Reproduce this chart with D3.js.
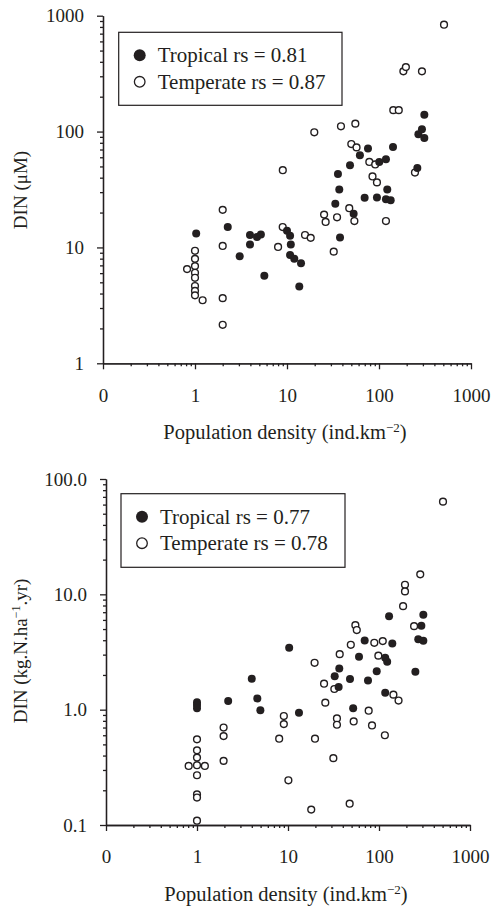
<!DOCTYPE html>
<html>
<head>
<meta charset="utf-8">
<script src="https://cdn.jsdelivr.net/npm/d3@7"></script>
<style>
  body { margin: 0; background: #fff; }
</style>
</head>
<body>
<svg id="chart" width="493" height="908"></svg>
<script>
// population density (ind/km2), DIN
const topTropical = [
  [1.03,13.2],[2.27,15],[3.06,8.4],[3.96,12.8],[3.96,10.6],[4.72,12.3],[5.2,12.9],[5.67,5.7],
  [10,13.9],[10.8,12.6],[11,10.6],[10.8,8.6],[12,8.0],[14.2,7.3],[13.6,4.6],[33.5,23.8],
  [37,31.6],[37.7,12.2],[35.8,43.1],[48.4,51.2],[53,19.5],[62,62.5],[69.8,26.8],[75.9,71.3],
  [95,27],[100.7,54.7],[119,57.7],[119,26],[123,31.6],[134,25.6],[142,73.6],[261,48.5],
  [268,94.8],[293,104.7],[311,88],[311,140]
]
const topTemperate = [
  [0.82,6.5],[1,9.35],[1,7.97],[1,6.9],[1,6.04],[1,5.47],[1,4.64],[1,4.22],[1,3.86],[1.21,3.5],
  [2,21.1],[2,10.3],[2,3.65],[2,2.15],[8,10.1],[8.98,15],[9,46.4],[15.7,12.8],[18.1,12.1],
  [19.8,98.6],[25.3,19.2],[26.3,16.6],[32.2,9.2],[35,18.2],[38.6,111],[47.5,21.8],[50,78],
  [54,16.9],[55.3,117],[57,73],[78.5,54.7],[85,41],[91,52],[95,36.4],[119,16.9],[143,153],
  [164,153],[184,331],[196,360],[246,44.3],[293,331],[509,836]
]
const bottomTropical = [
  [1,1.16],[1,1.1],[1,1.03],[2.2,1.19],[4,1.85],[4.6,1.25],[4.97,0.99],[10.3,3.44],[13.2,0.94],
  [32.6,1.95],[36,1.57],[36.6,2.28],[48,1.84],[52,1.03],[60.3,2.88],[69.6,3.98],[75.7,1.79],
  [94.4,2.15],[117,2.82],[117,1.4],[123,2.6],[129,6.46],[140,3.75],[251,2.13],[270,4.08],
  [292,5.34],[307,3.96],[307,6.65]
]
const bottomTemperate = [
  [0.81,0.325],[1,0.553],[1,0.444],[1,0.384],[1,0.33],[1,0.27],[1,0.184],[1,0.173],[1,0.109],
  [1.22,0.325],[1.96,0.70],[1.96,0.59],[1.96,0.36],[8,0.56],[9,0.88],[9,0.75],[10.1,0.244],
  [18,0.136],[19.6,2.55],[19.8,0.56],[24.9,1.68],[25.7,1.15],[31.5,0.38],[32.3,1.51],[34.5,0.84],
  [34.5,0.74],[37,3.03],[47.6,0.153],[49,3.65],[52.7,0.79],[55,5.4],[57,4.9],[77,0.98],[83.8,0.73],
  [88.8,3.8],[98.4,2.94],[110,3.93],[116,0.6],[144,1.35],[164,1.2],[184,7.9],[193,12.1],[193,10.6],
  [243,5.3],[284,14.9],[505,63.6]
]

const xTicks = [0.1, 1, 10, 100, 1000]
const xTickLabels = ["0", "1", "10", "100", "1000"]
const topYTicks = [1, 10, 100, 1000]
const topYLabels = ["1", "10", "100", "1000"]
const bottomYTicks = [0.1, 1, 10, 100]
const bottomYLabels = ["0.1", "1.0", "10.0", "100.0"]
const topLegend = ["Tropical rs = 0.81", "Temperate rs = 0.87"]
const bottomLegend = ["Tropical rs = 0.77", "Temperate rs = 0.78"]

const ink = "#231f20"
const serif = "'Liberation Serif', 'Times New Roman', Times, 'DejaVu Serif', serif"
const svg = d3.select("#chart")

function minorTicks(domain) {
  const out = []
  for (let d = domain[0]; d < domain[1] * 0.999; d *= 10) {
    for (let k = 2; k <= 9; k++) out.push(d * k)
  }
  return out
}

function drawPanel(opts) {
  const { left, right, top, bottom, yDomain, yTicks, yLabels, tropical, temperate, legend, legendBox, yTitle } = opts
  const x = d3.scaleLog().domain([0.1, 1000]).range([left, right])
  const y = d3.scaleLog().domain(yDomain).range([bottom, top])
  const g = svg.append("g").attr("font-family", serif)

  // x axis: minor then major
  g.append("g")
    .attr("transform", `translate(0,${bottom})`)
    .call(d3.axisBottom(x).tickValues(minorTicks([0.1, 1000])).tickSize(3).tickSizeOuter(0).tickFormat(""))
  g.append("g")
    .attr("transform", `translate(0,${bottom})`)
    .call(d3.axisBottom(x).tickValues(xTicks).tickSize(6).tickSizeOuter(0).tickPadding(19)
      .tickFormat((d, i) => xTickLabels[i]))

  // y axis
  g.append("g")
    .attr("transform", `translate(${left},0)`)
    .call(d3.axisLeft(y).tickValues(minorTicks(yDomain)).tickSize(3).tickSizeOuter(0).tickFormat(""))
  g.append("g")
    .attr("transform", `translate(${left},0)`)
    .call(d3.axisLeft(y).tickValues(yTicks).tickSize(6).tickSizeOuter(0).tickPadding(13)
      .tickFormat((d, i) => yLabels[i]))

  g.selectAll("g").attr("font-family", null).attr("font-size", null)
  g.selectAll(".tick text").style("font-size", "19px").attr("fill", ink)
  g.selectAll(".domain, .tick line").attr("stroke", ink).attr("stroke-width", 1.3)

  // points
  g.append("g").selectAll("circle").data(temperate).join("circle")
    .attr("cx", d => x(d[0])).attr("cy", d => y(d[1])).attr("r", 3.4)
    .attr("fill", "#fff").attr("stroke", ink).attr("stroke-width", 1.4)
  g.append("g").selectAll("circle").data(tropical).join("circle")
    .attr("cx", d => x(d[0])).attr("cy", d => y(d[1])).attr("r", 4)
    .attr("fill", ink)

  // legend
  const lg = g.append("g").attr("transform", `translate(${legendBox[0]},${legendBox[1]})`)
  lg.append("rect").attr("width", legendBox[2]).attr("height", legendBox[3])
    .attr("fill", "#fff").attr("stroke", ink).attr("stroke-width", 1.2)
  legend.forEach((t, i) => {
    const cy = 23 + i * 26.5
    lg.append("circle").attr("cx", 21).attr("cy", cy).attr("r", i === 0 ? 6 : 5.3)
      .attr("fill", i === 0 ? ink : "#fff").attr("stroke", ink).attr("stroke-width", i === 0 ? 0 : 1.3)
    lg.append("text").attr("x", 39).attr("y", cy + 7).attr("fill", ink).style("font-size", "21px").text(t)
  })

  // titles
  const xt = g.append("text").attr("x", (left + right) / 2 - 2).attr("y", bottom + 76)
    .attr("text-anchor", "middle").attr("fill", ink).style("font-size", "20.5px")
  xt.append("tspan").text("Population density (ind.km")
  xt.append("tspan").attr("dy", -7).style("font-size", "13px").text("\u22122")
  xt.append("tspan").attr("dy", 7).text(")")

  const yt = g.append("text").attr("transform", `translate(27,${yTitle.cy}) rotate(-90)`)
    .attr("text-anchor", "middle").attr("fill", ink).style("font-size", "19px")
  yTitle.parts.forEach(p => {
    const s = yt.append("tspan").text(p.t)
    if (p.sup) s.attr("dy", -7).style("font-size", "12px")
    if (p.back) s.attr("dy", 7)
  })
}

drawPanel({
  left: 103, right: 471, top: 15.7, bottom: 363.3,
  yDomain: [1, 1000], yTicks: topYTicks, yLabels: topYLabels,
  tropical: topTropical, temperate: topTemperate, legend: topLegend,
  legendBox: [118.7, 32.3, 223.3, 73],
  yTitle: { cy: 190, parts: [{ t: "DIN (\u03bcM)" }] }
})

drawPanel({
  left: 106, right: 470, top: 479, bottom: 825,
  yDomain: [0.1, 100], yTicks: bottomYTicks, yLabels: bottomYLabels,
  tropical: bottomTropical, temperate: bottomTemperate, legend: bottomLegend,
  legendBox: [121, 493.7, 224, 73.6],
  yTitle: { cy: 651, parts: [{ t: "DIN (kg.N.ha" }, { t: "\u22121", sup: true }, { t: ".yr)", back: true }] }
})
</script>
</body>
</html>
